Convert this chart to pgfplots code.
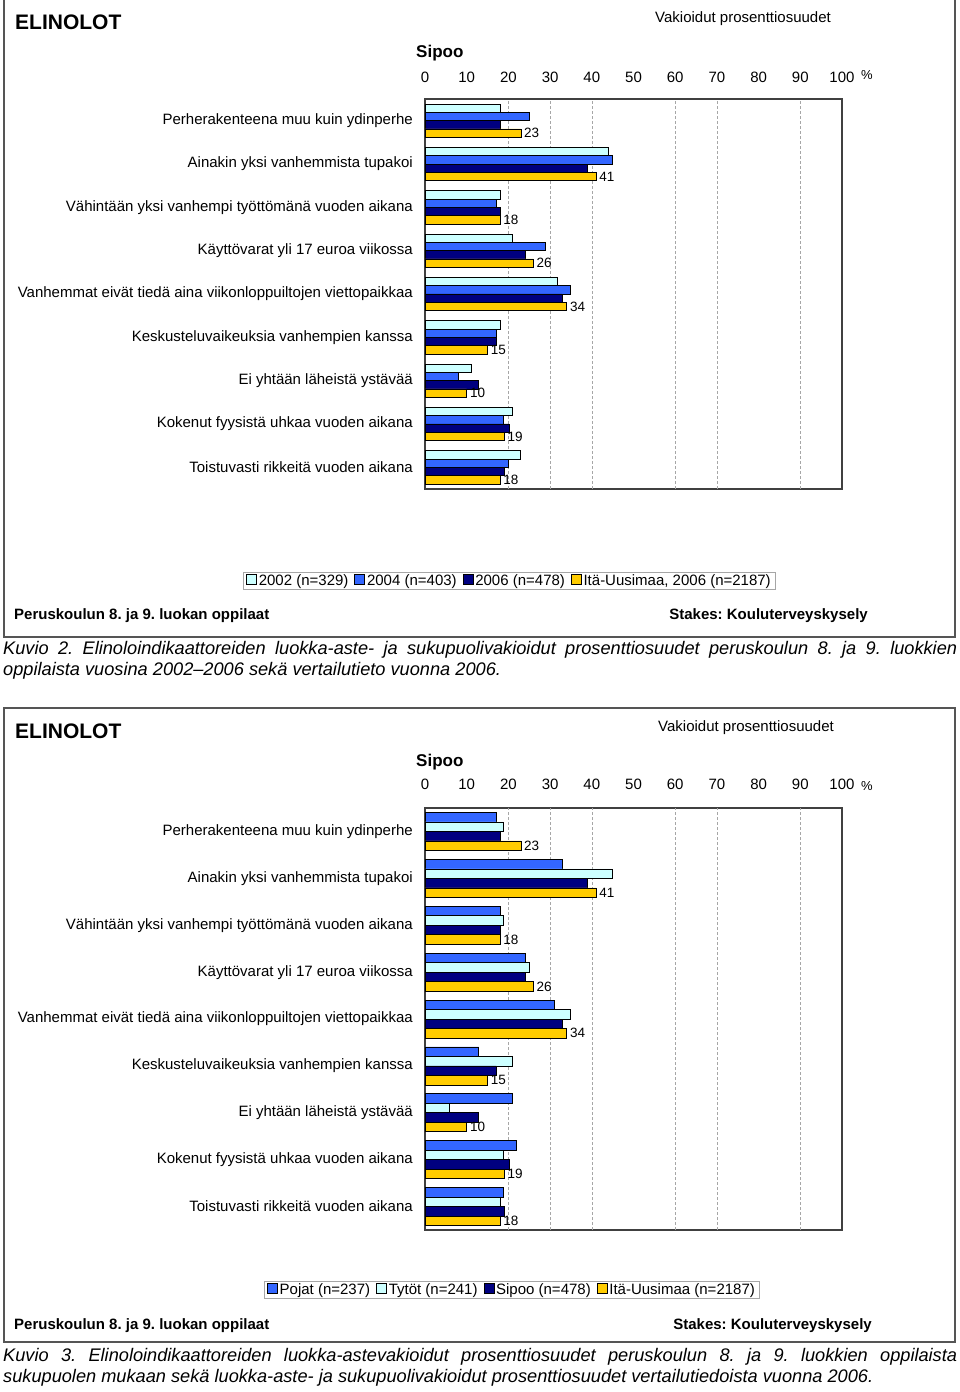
\documentclass[border=0pt]{standalone}
\usepackage{pgfplots}
\usepackage{pgfplotstable}
\pgfplotsset{compat=1.18}
\usepackage{fontspec}
\setmainfont{Liberation Sans}
\frenchspacing
\definecolor{c02}{HTML}{CCFFFF}
\definecolor{c04}{HTML}{3366FF}
\definecolor{c06}{HTML}{000080}
\definecolor{ciu}{HTML}{FFCC00}
\definecolor{frame}{HTML}{555555}
\newcommand{\fs}[1]{\fontsize{#1}{#1}\selectfont}

\pgfplotstableread{
y a b c d
8 18.0 24.9 18.0 23
7 44.0 44.9 38.9 41
6 18.0 17.1 18.0 18
5 21.0 28.8 24.1 26
4 31.7 34.9 32.9 34
3 18.0 17.1 17.1 15
2 11.0 8.0 12.9 10
1 21.0 18.8 20.1 19
0 22.8 20.0 19.0 18
}\topdata

\pgfplotstableread{
y a b c d
8 17.1 18.8 18.0 23
7 32.9 44.9 38.9 41
6 18.0 18.8 18.0 18
5 24.1 25.0 24.1 26
4 31.0 34.9 32.9 34
3 12.9 21.0 17.1 15
2 21.0 5.9 12.9 10
1 22.0 18.8 20.1 19
0 18.8 18.0 19.0 18
}\botdata

\pgfplotsset{
  sqleg/.style={legend image code/.code={\draw[##1,line width=0.6pt] (0pt,-3pt) rectangle (10pt,7pt);}},
  barstyle/.style={draw=black, line width=0.6pt},
  ivlab/.style={point meta=x,
    nodes near coords={\pgfmathprintnumber[fixed,precision=0]{\pgfplotspointmeta}},
    every node near coord/.append style={anchor=west, inner sep=0pt, xshift=3pt, font=\fs{13.5}, text=black}},
  chart/.style={
    xbar, scale only axis, width=417pt,
    xmin=0, xmax=100, ymin=-0.5, ymax=8.5,
    xtick={0,10,...,100}, ytick={0,...,8},
    xticklabel pos=upper,
    major tick length=0pt,
    axis line style={draw=black!75, line width=1.2pt},
    /pgf/number format/assume math mode=true,
    xticklabel style={font=\fs{15}, anchor=base, inner sep=0pt},
    yticklabel style={font=\fs{15}, anchor=east, inner sep=0pt, xshift=-12pt},
    yticklabels={Toistuvasti rikkeitä vuoden aikana, Kokenut fyysistä uhkaa vuoden aikana, Ei yhtään läheistä ystävää, Keskusteluvaikeuksia vanhempien kanssa, Vanhemmat eivät tiedä aina viikonloppuiltojen viettopaikkaa, Käyttövarat yli 17 euroa viikossa, Vähintään yksi vanhempi työttömänä vuoden aikana, Ainakin yksi vanhemmista tupakoi, Perherakenteena muu kuin ydinperhe},
    extra x ticks={20,30,40,60,70,90},
    extra x tick labels={},
    extra x tick style={grid=major, major grid style={densely dashed, black!35, line width=0.6pt}},
    legend columns=4,
    legend style={draw=black!35, line width=0.8pt, font=\fs{15}, inner xsep=3pt, inner ysep=1.5pt,
      nodes={inner xsep=2pt, inner ysep=1pt},
      /tikz/every even column/.append style={column sep=4pt}, anchor=center},
    clip=false,
  },
}

\begin{document}
\begin{tikzpicture}
\useasboundingbox (0,0) rectangle (960pt,-1392pt);
% ---------- frames
\draw[frame, line width=1.2pt] (4pt,0pt) -- (4pt,-637pt) -- (955pt,-637pt) -- (955pt,0pt);
\draw[frame, line width=1.2pt] (4pt,-708pt) rectangle (955pt,-1342pt);

% ---------- top panel texts
\node[anchor=base west, inner sep=0pt, font=\bfseries\fs{21}] at (15pt,-29.5pt) {ELINOLOT};
\node[anchor=base west, inner sep=0pt, font=\fs{15}] at (655pt,-22.5pt) {Vakioidut prosenttiosuudet};
\node[anchor=base west, inner sep=0pt, font=\bfseries\fs{17}] at (416pt,-57pt) {Sipoo};
\node[anchor=base west, inner sep=0pt, font=\fs{13}] at (861pt,-79pt) {\%};
\node[anchor=base west, inner sep=0pt, font=\bfseries\fs{15}] at (14pt,-619.5pt) {Peruskoulun 8. ja 9. luokan oppilaat};
\node[anchor=base east, inner sep=0pt, font=\bfseries\fs{15}] at (868pt,-619.5pt) {Stakes: Kouluterveyskysely};
\node[anchor=base west, inner sep=0pt, font=\itshape\fs{18.2}] at (3pt,-654pt) {\hbox to 954pt{Kuvio 2. Elinoloindikaattoreiden luokka-aste- ja sukupuolivakioidut prosenttiosuudet peruskoulun 8. ja 9. luokkien}};
\node[anchor=base west, inner sep=0pt, font=\itshape\fs{18.2}] at (3pt,-675pt) {oppilaista vuosina 2002–2006 sekä vertailutieto vuonna 2006.};

% ---------- top chart
\begin{axis}[chart, at={(425pt,-99pt)}, anchor=north west, height=390pt, bar width=8.3pt,
  xticklabel style={yshift=17pt},
  legend style={at={(0.2026,-0.236)}}]
\addplot[barstyle, fill=c02, bar shift=12.45pt, sqleg] table[x=a, y=y] {\topdata};
\addplot[barstyle, fill=c04, bar shift=4.15pt, sqleg] table[x=b, y=y] {\topdata};
\addplot[barstyle, fill=c06, bar shift=-4.15pt, sqleg] table[x=c, y=y] {\topdata};
\addplot[barstyle, fill=ciu, bar shift=-12.45pt, sqleg, ivlab] table[x=d, y=y] {\topdata};
\legend{2002 (n=329), 2004 (n=403), 2006 (n=478), {Itä-Uusimaa, 2006 (n=2187)}}
\end{axis}

% ---------- bottom panel texts
\node[anchor=base west, inner sep=0pt, font=\bfseries\fs{21}] at (15pt,-738.5pt) {ELINOLOT};
\node[anchor=base west, inner sep=0pt, font=\fs{15}] at (658pt,-731.5pt) {Vakioidut prosenttiosuudet};
\node[anchor=base west, inner sep=0pt, font=\bfseries\fs{17}] at (416pt,-766pt) {Sipoo};
\node[anchor=base west, inner sep=0pt, font=\fs{13}] at (861pt,-790pt) {\%};
\node[anchor=base west, inner sep=0pt, font=\bfseries\fs{15}] at (14pt,-1329.5pt) {Peruskoulun 8. ja 9. luokan oppilaat};
\node[anchor=base east, inner sep=0pt, font=\bfseries\fs{15}] at (872pt,-1329.5pt) {Stakes: Kouluterveyskysely};
\node[anchor=base west, inner sep=0pt, font=\itshape\fs{18.2}] at (3pt,-1361pt) {\hbox to 954pt{Kuvio 3. Elinoloindikaattoreiden luokka-astevakioidut prosenttiosuudet peruskoulun 8. ja 9. luokkien oppilaista}};
\node[anchor=base west, inner sep=0pt, font=\itshape\fs{18.2}] at (3pt,-1382pt) {sukupuolen mukaan sekä luokka-aste- ja sukupuolivakioidut prosenttiosuudet vertailutiedoista vuonna 2006.};

% ---------- bottom chart
\begin{axis}[chart, at={(425pt,-808pt)}, anchor=north west, height=422pt, bar width=9.5pt,
  xticklabel style={yshift=19pt},
  legend style={at={(0.2086,-0.142)}}]
\addplot[barstyle, fill=c04, bar shift=14.25pt, sqleg] table[x=a, y=y] {\botdata};
\addplot[barstyle, fill=c02, bar shift=4.75pt, sqleg] table[x=b, y=y] {\botdata};
\addplot[barstyle, fill=c06, bar shift=-4.75pt, sqleg] table[x=c, y=y] {\botdata};
\addplot[barstyle, fill=ciu, bar shift=-14.25pt, sqleg, ivlab] table[x=d, y=y] {\botdata};
\legend{Pojat (n=237), Tytöt (n=241), Sipoo (n=478), Itä-Uusimaa (n=2187)}
\end{axis}
\end{tikzpicture}
\end{document}
